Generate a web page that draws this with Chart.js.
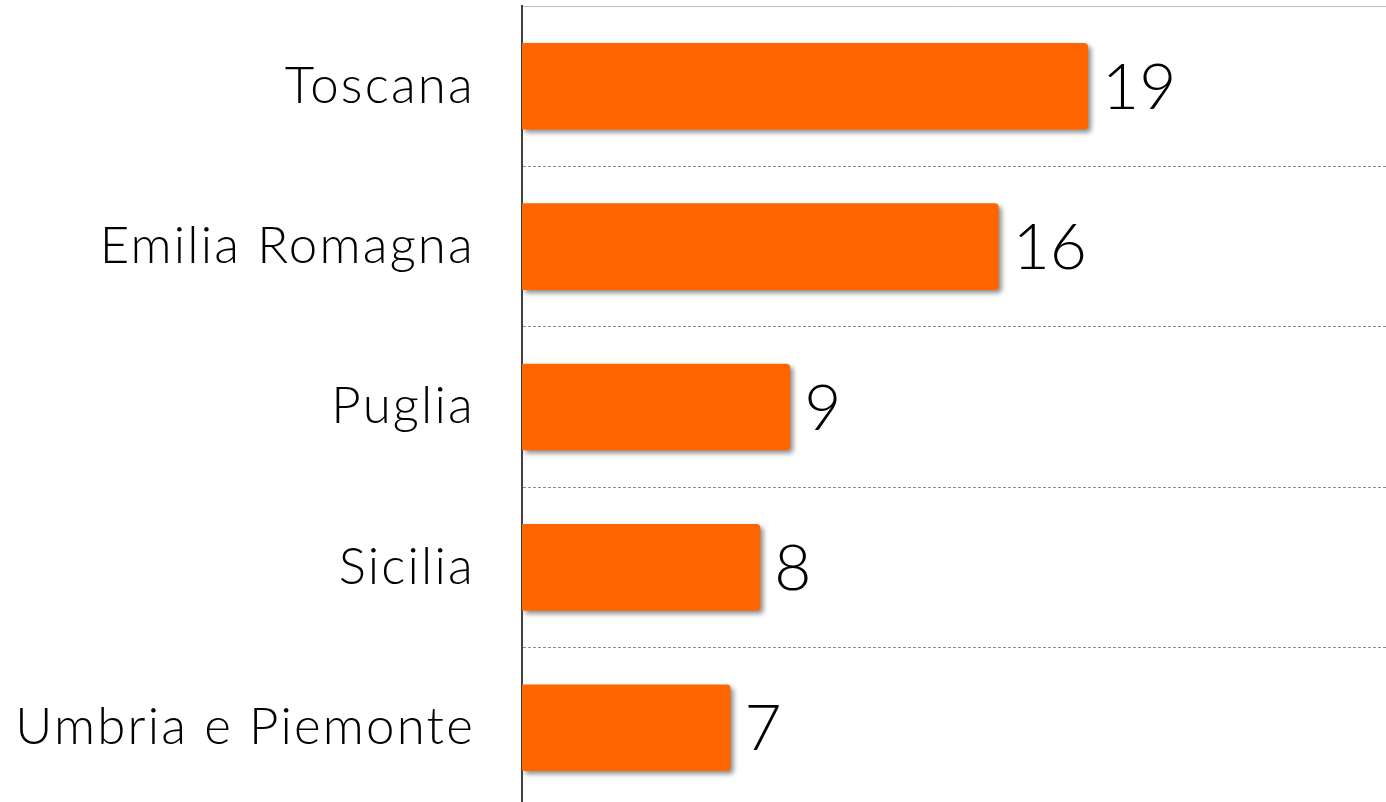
<!DOCTYPE html>
<html>
<head>
<meta charset="utf-8">
<script src="https://cdn.jsdelivr.net/npm/chart.js@4"></script>
<style>
  html, body { margin: 0; padding: 0; background: #fff; overflow: hidden; }
  #wrap { position: absolute; left: 0; top: 0; width: 1386px; height: 808px; }
</style>
</head>
<body>
<div id="wrap"><canvas id="c" width="1386" height="808"></canvas></div>
<script>
const categories = ["Toscana", "Emilia Romagna", "Puglia", "Sicilia", "Umbria e Piemonte"];
const values = [19, 16, 9, 8, 7];
const xMax = 29;

const labelFont = "Lato";

const spacingPlugin = {
  id: 'spacing',
  beforeDraw(chart) { chart.ctx.letterSpacing = '2.2px'; }
};

const shadowPlugin = {
  id: 'barShadow',
  beforeDatasetsDraw(chart) {
    const ctx = chart.ctx;
    ctx.save();
    ctx.shadowColor = 'rgba(0,0,0,0.45)';
    ctx.shadowBlur = 5;
    ctx.shadowOffsetX = 3;
    ctx.shadowOffsetY = 3;
  },
  afterDatasetsDraw(chart) {
    chart.ctx.restore();
  }
};

const valueLabelPlugin = {
  id: 'valueLabels',
  afterDraw(chart) {
    const ctx = chart.ctx;
    const meta = chart.getDatasetMeta(0);
    ctx.save();
    ctx.letterSpacing = '0px';
    ctx.font = '300 64px ' + labelFont;
    ctx.fillStyle = '#000';
    ctx.textAlign = 'left';
    ctx.textBaseline = 'middle';
    meta.data.forEach((bar, i) => {
      ctx.fillText(String(chart.data.datasets[0].data[i]), bar.x + 14, bar.y + 2);
    });
    ctx.restore();
  }
};

new Chart(document.getElementById('c'), {
  type: 'bar',
  data: {
    labels: categories,
    datasets: [{
      data: values,
      backgroundColor: '#FF6600',
      borderRadius: 4,
      barPercentage: 0.9,
      categoryPercentage: 0.6
    }]
  },
  options: {
    indexAxis: 'y',
    responsive: false,
    animation: false,
    events: [],
    layout: { padding: { top: 6, right: 0, bottom: 0, left: 0 } },
    plugins: { legend: { display: false }, tooltip: { enabled: false } },
    scales: {
      x: {
        min: 0, max: xMax,
        display: false
      },
      y: {
        afterFit(scale) {
          scale.width = 522;
          scale.paddingTop = 0;
          scale.paddingBottom = 0;
        },
        grid: {
          offset: true,
          drawTicks: false,
          color: (c) => c.index === 0 ? '#bfbfbf' : '#8c8c8c',
          lineWidth: 1
        },
        border: {
          display: true,
          color: '#404040',
          width: 2,
          dash: (c) => (c.type === 'tick' && c.index > 0) ? [3, 2] : []
        },
        ticks: {
          color: '#000',
          padding: 47,
          font: { family: labelFont, size: 51, weight: 300 }
        }
      }
    }
  },
  plugins: [spacingPlugin, shadowPlugin, valueLabelPlugin]
});
</script>
</body>
</html>
